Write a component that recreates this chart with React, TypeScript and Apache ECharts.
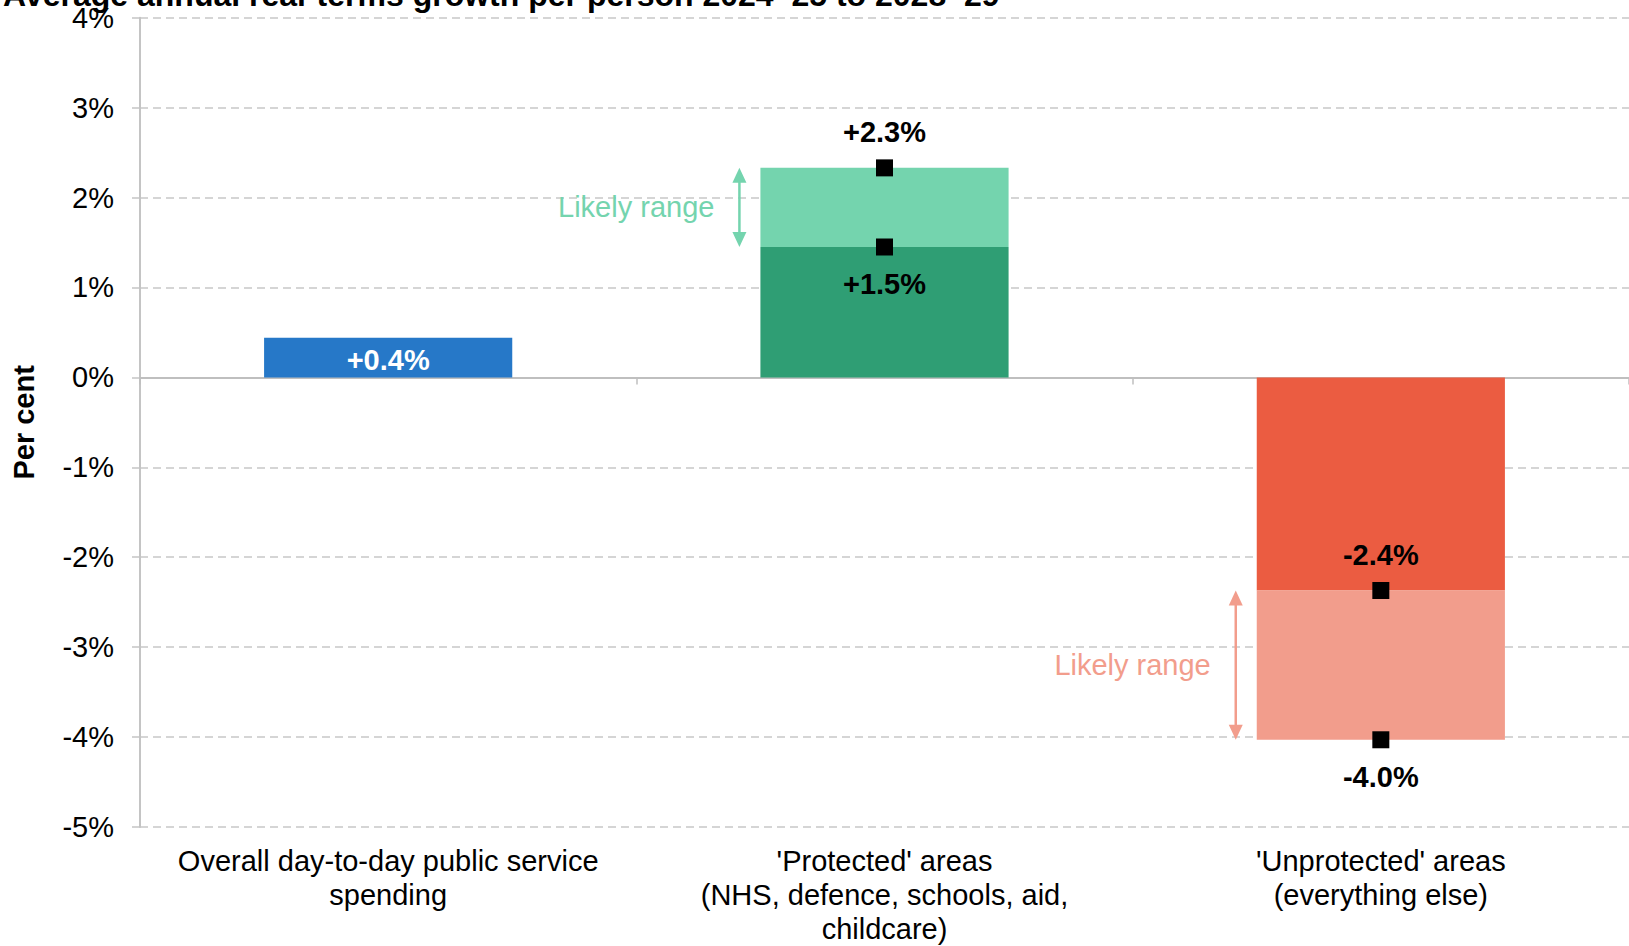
import React, { useEffect, useRef } from "react";
import * as echarts from "echarts";

const titleText = "Average annual real-terms growth per person 2024–25 to 2028–29";
const categories = [
  "Overall day-to-day public service\nspending",
  "'Protected' areas\n(NHS, defence, schools, aid,\nchildcare)",
  "'Unprotected' areas\n(everything else)",
];
const centralValues = [0.44, 1.45, -2.37];
const rangeEnds: (number | null)[] = [null, 2.33, -4.03];
const centralLabels = ["+0.4%", "+1.5%", "-2.4%"];
const rangeLabels: (string | null)[] = [null, "+2.3%", "-4.0%"];
const darkColors = ["#2678C8", "#2F9E74", "#EB5C41"];
const lightColors = ["#2678C8", "#74D4AE", "#F29D8C"];
const rangeNote = "Likely range";

const FONT = "'Liberation Sans', Arial, sans-serif";

export default function App() {
  const ref = useRef<HTMLDivElement>(null);
  useEffect(() => {
    if (!ref.current) return;
    const chart = echarts.init(ref.current, null, { renderer: "svg" });

    const centralData = centralValues.map((v, i) => ({
      value: v,
      itemStyle: { color: darkColors[i] },
      label:
        rangeEnds[i] === null
          ? {
              show: true,
              position: "inside",
              formatter: centralLabels[i],
              color: "#fff",
              fontWeight: "bold",
              fontSize: 29,
              fontFamily: FONT,
              offset: [0, 2],
            }
          : { show: false },
    }));
    const rangeData = rangeEnds.map((e, i) =>
      e === null
        ? "-"
        : { value: +(e - centralValues[i]).toFixed(2), itemStyle: { color: lightColors[i] } }
    );

    const markerData: any[] = [];
    const arrowData: any[] = [];
    rangeEnds.forEach((e, i) => {
      if (e === null) return;
      const c = centralValues[i];
      const endUp = e > c;
      markerData.push({
        value: [i, c],
        label: {
          show: true,
          formatter: centralLabels[i],
          position: endUp ? "bottom" : "top",
          distance: endUp ? 14 : 13,
        },
      });
      markerData.push({
        value: [i, e],
        label: {
          show: true,
          formatter: rangeLabels[i],
          position: endUp ? "top" : "bottom",
          distance: endUp ? 13 : 14,
        },
      });
      arrowData.push([i, c, e]);
    });

    const option: any = {
      animation: false,
      textStyle: { fontFamily: FONT },
      grid: { left: 140, right: 0, top: 17.7, bottom: 114, containLabel: false },
      graphic: [
        {
          type: "text",
          x: 3,
          y: -5,
          style: {
            text: titleText,
            fontFamily: FONT,
            fontSize: 32,
            fontWeight: "bold",
            fill: "#000",
            verticalAlign: "middle",
          },
        },
      ],
      xAxis: [
        {
          type: "category",
          data: categories,
          position: "bottom",
          axisLine: { show: true, onZero: true, lineStyle: { color: "#bfbfbf", width: 2 } },
          axisTick: { show: true, length: 7, lineStyle: { color: "#bfbfbf", width: 1.5 } },
          axisLabel: { show: false },
          splitLine: { show: false },
        },
        {
          type: "category",
          data: categories,
          position: "bottom",
          axisLine: { show: false, onZero: false },
          axisTick: { show: false },
          splitLine: { show: false },
          axisLabel: {
            show: true,
            interval: 0,
            fontSize: 29,
            lineHeight: 34,
            color: "#000",
            margin: 17,
            fontFamily: FONT,
          },
        },
      ],
      yAxis: {
        type: "value",
        min: -5,
        max: 4,
        interval: 1,
        name: "Per cent",
        nameLocation: "middle",
        nameGap: 102,
        nameTextStyle: { fontSize: 29, fontWeight: "bold", color: "#000", fontFamily: FONT },
        axisLine: { show: true, lineStyle: { color: "#c4c4c4", width: 2 } },
        axisTick: { show: true, length: 8, lineStyle: { color: "#c4c4c4", width: 1.5 } },
        axisLabel: { formatter: "{value}%", fontSize: 29, color: "#000", margin: 26, fontFamily: FONT },
        splitLine: { show: true, lineStyle: { color: "#c8c8c8", type: [8, 5], width: 1.5 } },
      },
      series: [
        {
          type: "bar",
          name: "central",
          stack: "total",
          barWidth: "50%",
          xAxisIndex: 0,
          data: centralData,
        },
        {
          type: "bar",
          name: "range",
          stack: "total",
          barWidth: "50%",
          xAxisIndex: 0,
          data: rangeData,
        },
        {
          type: "scatter",
          xAxisIndex: 0,
          symbol: "rect",
          symbolSize: 17,
          itemStyle: { color: "#000", opacity: 1 },
          label: { color: "#000", opacity: 1, fontWeight: "bold", fontSize: 29, fontFamily: FONT },
          data: markerData,
          z: 5,
        },
        {
          type: "custom",
          xAxisIndex: 0,
          encode: { x: 0, y: [1, 2] },
          data: arrowData,
          renderItem: (params: any, api: any) => {
            const idx = api.value(0);
            const a = api.coord([idx, api.value(1)]);
            const b = api.coord([idx, api.value(2)]);
            const band = api.size([1, 0])[0];
            const x = a[0] - band * 0.25 - 21;
            const yTop = Math.min(a[1], b[1]);
            const yBot = Math.max(a[1], b[1]);
            const col = lightColors[idx];
            const hh = 15;
            const hw = 7;
            return {
              type: "group",
              children: [
                {
                  type: "line",
                  shape: { x1: x, y1: yTop + hh - 1, x2: x, y2: yBot - hh + 1 },
                  style: { stroke: col, lineWidth: 2.5 },
                },
                {
                  type: "polygon",
                  shape: { points: [[x, yTop], [x - hw, yTop + hh], [x + hw, yTop + hh]] },
                  style: { fill: col },
                },
                {
                  type: "polygon",
                  shape: { points: [[x, yBot], [x - hw, yBot - hh], [x + hw, yBot - hh]] },
                  style: { fill: col },
                },
                {
                  type: "text",
                  x: x - 25,
                  y: (yTop + yBot) / 2,
                  style: {
                    text: rangeNote,
                    fill: col,
                    fontSize: 29,
                    fontFamily: FONT,
                    align: "right",
                    verticalAlign: "middle",
                  },
                },
              ],
            };
          },
        },
      ],
    };
    chart.setOption(option);
    return () => chart.dispose();
  }, []);
  return (
    <div
      ref={ref}
      style={{ position: "fixed", left: 0, top: 0, width: 1629, height: 946, background: "#fff" }}
    />
  );
}
